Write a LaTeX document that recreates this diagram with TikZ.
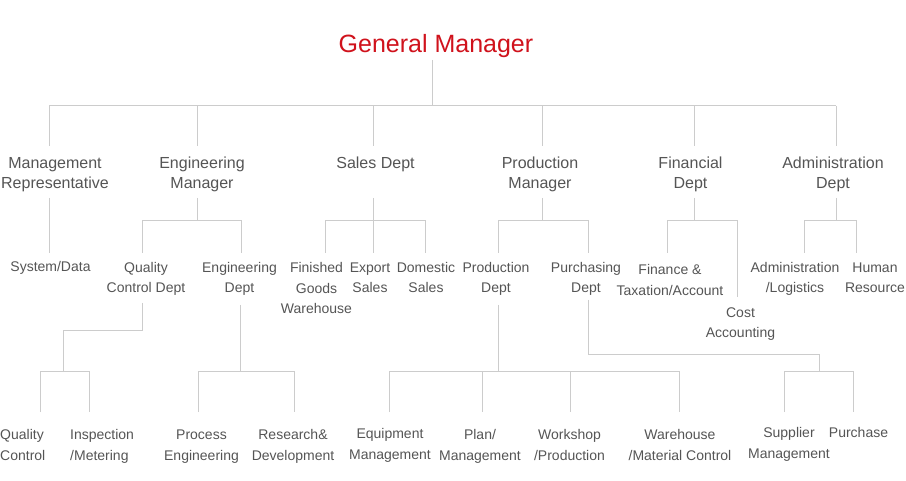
\documentclass[tikz,border=0pt]{standalone}
\usepackage{fontspec}
\setmainfont{Liberation Sans}
\definecolor{gmred}{RGB}{208,18,28}
\definecolor{txt}{RGB}{85,85,85}
\definecolor{lnc}{RGB}{204,204,204}
\begin{document}
\begin{tikzpicture}[x=1pt,y=-1pt,
  ln/.style={draw=lnc,line width=1pt},
  lab/.style={text=txt,align=center,inner sep=0pt,anchor=base},
  big/.style={lab,font=\fontsize{16}{20}\selectfont},
  small/.style={lab,font=\fontsize{14}{20.5}\selectfont},
  smallL/.style={small,align=left,anchor=base west},
  title/.style={text=gmred,inner sep=0pt,anchor=base,font=\fontsize{25}{30}\selectfont}]
\useasboundingbox[fill=white] (0,0) rectangle (906,481);

% ---------- labels (y = baseline of the last line) ----------
\node[title] (gm) at (436,53) {General Manager};

\node[big] (mr) at (55,189) {Management\\Representative};
\node[big] (em) at (202,189) {Engineering\\Manager};
\node[big] (sd) at (375.5,169) {Sales Dept};
\node[big] (pm) at (540,189) {Production\\Manager};
\node[big] (fd) at (690.5,189) {Financial\\Dept};
\node[big] (ad) at (833,189) {Administration\\Dept};

\node[small] (sys) at (50.5,272) {System/Data};
\node[small] (qc) at (146,293) {Quality\\Control Dept};
\node[small] (ed) at (239.5,293) {Engineering\\Dept};
\node[small] (fg) at (316.5,313.5) {Finished\\Goods\\Warehouse};
\node[small] (es) at (370,293) {Export\\Sales};
\node[small] (ds) at (426,293) {Domestic\\Sales};
\node[small] (pd) at (496,293) {Production\\Dept};
\node[small] (pu) at (586,293) {Purchasing\\Dept};
\node[small] (fin) at (670,295.5) {Finance \&\\Taxation/Account};
\node[small] (ca) at (740.5,338) {Cost\\Accounting};
\node[small] (al) at (795,293) {Administration\\/Logistics};
\node[small] (hr) at (875,293) {Human\\Resource};

\node[smallL] (q) at (0,460) {Quality\\Control};
\node[smallL] (insp) at (70,460) {Inspection\\/Metering};
\node[small] (pe) at (201.5,460) {Process\\Engineering};
\node[small] (rd) at (293,460) {Research\&\\Development};
\node[small] (eq) at (390,459) {Equipment\\Management};
\node[small] (pl) at (480,460) {Plan/\\Management};
\node[small] (ws) at (569.5,460) {Workshop\\/Production};
\node[small] (wh) at (680,460) {Warehouse\\/Material Control};
\node[small] (sm) at (789,458) {Supplier\\Management};
\node[small] (pur) at (858.5,437) {Purchase};

% ---------- named connector points ----------
\coordinate (gmT) at (432,60);
\coordinate (busL) at (49,106);
\coordinate (busR) at (836,106);
\foreach \n/\x in {mr/49,em/197,sd/373,pm/542,fd/694,ad/836}{
  \coordinate (\n-up) at (\x,146);
  \coordinate (\n-bus) at (\x,106);
  \coordinate (\n-dn) at (\x,198);
  \coordinate (\n-j) at (\x,221);
}
\foreach \n/\x/\y in {sys/49/253,qc/142/253,ed/241/253,fg/325/253,es/373/253,ds/425/253,
  pd/498/253,pu/588/253,fin/667/253,ca/737/297,al/804/253,hr/856/253}{
  \coordinate (\n-up) at (\x,\y);
  \coordinate (\n-j) at (\x,221);
}
\foreach \n/\x in {q/40,insp/89,pe/198,rd/294,eq/389,pl/482,ws/570,wh/679,sm/784,pur/853}{
  \coordinate (\n-up) at (\x,412);
  \coordinate (\n-j) at (\x,372);
}
\coordinate (qc-dn) at (142,303);
\coordinate (qc-k) at (63,331);
\coordinate (qc-b) at (63,372);
\coordinate (ed-dn) at (240,305);
\coordinate (ed-b) at (240,372);
\coordinate (pd-dn) at (498,305);
\coordinate (pd-b) at (498,372);
\coordinate (pu-dn) at (588,300);
\coordinate (pu-k) at (819,355);
\coordinate (pu-b) at (819,372);

% ---------- connectors ----------
\draw[ln] (gmT) -- (busL -| gmT);
\draw[ln] (busL) -- (busR);
\foreach \n in {mr,em,sd,pm,fd,ad}{ \draw[ln] (\n-bus) -- (\n-up); }

\draw[ln] (mr-dn) -- (sys-up);
\draw[ln] (em-dn) -- (em-j);
\draw[ln] (qc-up) -- (qc-j) -- (ed-j) -- (ed-up);
\draw[ln] (sd-dn) -- (es-up);
\draw[ln] (fg-up) -- (fg-j) -- (ds-j) -- (ds-up);
\draw[ln] (pm-dn) -- (pm-j);
\draw[ln] (pd-up) -- (pd-j) -- (pu-j) -- (pu-up);
\draw[ln] (fd-dn) -- (fd-j);
\draw[ln] (fin-up) -- (fin-j) -- (ca-j) -- (ca-up);
\draw[ln] (ad-dn) -- (ad-j);
\draw[ln] (al-up) -- (al-j) -- (hr-j) -- (hr-up);

\draw[ln] (qc-dn) |- (qc-k) -- (qc-b);
\draw[ln] (q-up) -- (q-j) -- (insp-j) -- (insp-up);
\draw[ln] (ed-dn) -- (ed-b);
\draw[ln] (pe-up) -- (pe-j) -- (rd-j) -- (rd-up);
\draw[ln] (pd-dn) -- (pd-b);
\draw[ln] (eq-up) -- (eq-j) -- (wh-j) -- (wh-up);
\draw[ln] (pl-j) -- (pl-up);
\draw[ln] (ws-j) -- (ws-up);
\draw[ln] (pu-dn) |- (pu-k) -- (pu-b);
\draw[ln] (sm-up) -- (sm-j) -- (pur-j) -- (pur-up);
\end{tikzpicture}
\end{document}
